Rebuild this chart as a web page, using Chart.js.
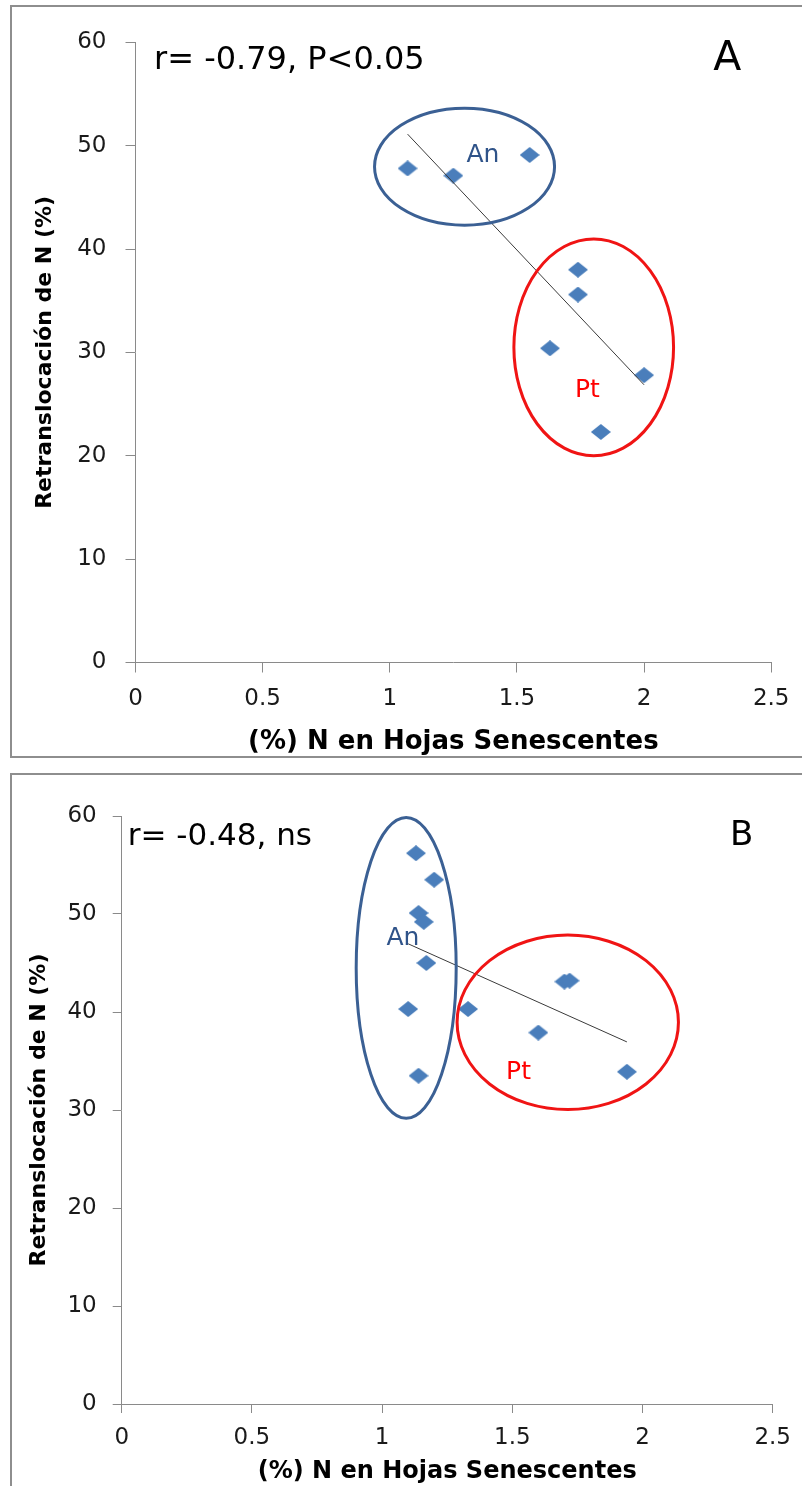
<!DOCTYPE html>
<html>
<head>
<meta charset="utf-8">
<script src="https://cdn.jsdelivr.net/npm/chart.js@4/dist/chart.umd.min.js"></script>
<style>
  body { margin: 0; width: 802px; height: 1486px; overflow: hidden; background: #fff; position: relative; }
  .box { position: absolute; left: 10px; width: 800px; border: 2px solid #8e8e8e; border-right: none; }
  #boxA { top: 5px; height: 749px; }
  #boxB { top: 773px; height: 760px; border-bottom: none; }
  canvas { position: absolute; left: 0; }
  #chartA { top: 0; }
  #chartB { top: 768px; }
</style>
</head>
<body>
<div class="box" id="boxA"></div>
<div class="box" id="boxB"></div>
<canvas id="chartA" width="802" height="760"></canvas>
<canvas id="chartB" width="802" height="718"></canvas>
<script>
// panel A: % N in senescent leaves vs N retranslocation
const nLeafA = [1.07, 1.25, 1.55, 1.74, 1.74, 1.63, 2.00, 1.83];
const retransA = [47.8, 47.1, 49.1, 38.0, 35.6, 30.4, 27.8, 22.3];

// panel B
const nLeafB = [1.13, 1.20, 1.14, 1.16, 1.17, 1.10, 1.14, 1.33, 1.70, 1.72, 1.60, 1.94];
const retransB = [56.2, 53.5, 50.1, 49.2, 45.0, 40.3, 33.5, 40.3, 43.1, 43.2, 37.9, 33.9];

const xTicks = [0, 0.5, 1, 1.5, 2, 2.5];
const yTicks = [0, 10, 20, 30, 40, 50, 60];

const groups = ['An', 'Pt'];
// circled groups, in data units: [cx, cy, rx, ry]
const ringsA = [[1.294, 47.97, 0.354, 5.66], [1.802, 30.49, 0.314, 10.49]];
const ringsB = [[1.0925, 44.5, 0.192, 15.35], [1.713, 38.95, 0.425, 8.9]];
// where the group names sit, data units
const namesA = [[1.366, 49.3], [1.777, 26.6]];
const namesB = [[1.080, 47.76], [1.524, 34.1]];

const groupColors = ['#2f5389', '#ff0000'];
const ringColors = ['#3b6094', '#f01414'];

Chart.defaults.font.family = '"DejaVu Sans", sans-serif';

// least squares line over the data range (Excel linear trendline)
const trend = (xs, ys) => {
  const n = xs.length;
  const mx = xs.reduce((a, b) => a + b, 0) / n;
  const my = ys.reduce((a, b) => a + b, 0) / n;
  let sxy = 0, sxx = 0;
  xs.forEach((x, i) => { sxy += (x - mx) * (ys[i] - my); sxx += (x - mx) * (x - mx); });
  const b = sxy / sxx;
  const lo = Math.min(...xs), hi = Math.max(...xs);
  return [{x: lo, y: my + b * (lo - mx)}, {x: hi, y: my + b * (hi - mx)}];
};

const diamond = (() => {
  const c = document.createElement('canvas');
  c.width = 20; c.height = 16;
  const g = c.getContext('2d');
  g.fillStyle = '#4a7ebb';
  g.beginPath();
  g.moveTo(10, 0); g.lineTo(20, 8); g.lineTo(10, 16); g.lineTo(0, 8);
  g.closePath();
  g.fill();
  return c;
})();

const extras = {
  id: 'extras',
  afterDatasetsDraw(chart, args, o) {
    const {ctx, chartArea: a, scales: {x, y}} = chart;
    ctx.save();
    o.rings.forEach((r, i) => {
      const cx = x.getPixelForValue(r[0]), cy = y.getPixelForValue(r[1]);
      const rx = x.getPixelForValue(r[0] + r[2]) - cx;
      const ry = cy - y.getPixelForValue(r[1] + r[3]);
      ctx.beginPath();
      ctx.ellipse(cx, cy, rx, ry, 0, 0, Math.PI * 2);
      ctx.lineWidth = 3;
      ctx.strokeStyle = ringColors[i];
      ctx.stroke();
    });
    ctx.font = '25px "DejaVu Sans"';
    ctx.textAlign = 'center';
    ctx.textBaseline = 'alphabetic';
    o.names.forEach((p, i) => {
      ctx.fillStyle = groupColors[i];
      ctx.fillText(groups[i], x.getPixelForValue(p[0]), y.getPixelForValue(p[1]) + 9);
    });
    ctx.fillStyle = '#000';
    ctx.textAlign = 'left';
    ctx.font = o.statSize + 'px "DejaVu Sans"';
    ctx.fillText(o.stat, a.left + o.statDx, a.top + o.statDy);
    ctx.textAlign = 'center';
    ctx.font = o.letterSize + 'px "DejaVu Sans"';
    ctx.fillText(o.letter, a.right - o.letterDx, a.top + o.letterDy);
    ctx.restore();
  }
};

const makeChart = (id, xs, ys, p) => {
  const pts = xs.map((x, i) => ({x, y: ys[i]}));
  new Chart(document.getElementById(id), {
    type: 'scatter',
    data: {
      datasets: [
        {data: trend(xs, ys), showLine: true, borderColor: '#3a3a3a', borderWidth: 1, pointRadius: 0, order: 0},
        {data: pts, pointStyle: diamond, pointRadius: 8, order: 1}
      ]
    },
    options: {
      responsive: false,
      devicePixelRatio: 1,
      animation: false,
      layout: {padding: {top: p.top, right: p.right, left: 0, bottom: 0}},
      plugins: {
        legend: {display: false},
        tooltip: {enabled: false},
        extras: p.extras
      },
      scales: {
        x: {
          type: 'linear',
          min: xTicks[0], max: xTicks[xTicks.length - 1],
          afterBuildTicks: s => { s.ticks = xTicks.map(v => ({value: v})); },
          afterFit: s => { s.height = p.xHeight; },
          grid: {drawOnChartArea: false, tickLength: p.tickLen, tickColor: '#8a8a8a'},
          border: {color: '#8a8a8a'},
          ticks: {color: '#1a1a1a', font: {size: 23}, padding: p.xPad, maxRotation: 0, callback: v => String(v)},
          title: {display: true, text: '(%) N en Hojas Senescentes', color: '#000',
                  font: {size: p.xTitleSize, weight: 'bold'}, padding: {top: 0, bottom: p.xTitlePad}}
        },
        y: {
          type: 'linear',
          min: yTicks[0], max: yTicks[yTicks.length - 1],
          afterBuildTicks: s => { s.ticks = yTicks.map(v => ({value: v})); },
          afterFit: s => { s.width = p.yWidth; },
          grid: {drawOnChartArea: false, tickLength: p.tickLen, tickColor: '#8a8a8a'},
          border: {color: '#8a8a8a'},
          ticks: {color: '#1a1a1a', font: {size: 23}, padding: p.yPad, callback: v => String(v)},
          title: {display: true, text: 'Retranslocación de N (%)', color: '#000',
                  font: {size: 22, weight: 'bold'}, padding: {top: p.yTitlePad, bottom: 0}}
        }
      }
    },
    plugins: [extras]
  });
};

(() => {
  makeChart('chartA', nLeafA, retransA, {
    top: 42.3, right: 30, xHeight: 97.5, yWidth: 135.5, tickLen: 10,
    xPad: 12.5, yPad: 19, xTitleSize: 26, xTitlePad: 2.4, yTitlePad: 31.8,
    extras: {rings: ringsA, names: namesA, stat: 'r= -0.79, P<0.05', statSize: 32, statDx: 18.5, statDy: 27,
             letter: 'A', letterSize: 41, letterDx: 44, letterDy: 27.7}
  });
  makeChart('chartB', nLeafB, retransB, {
    top: 48, right: 27, xHeight: 82, yWidth: 121.7, tickLen: 9,
    xPad: 11, yPad: 16, xTitleSize: 24, xTitlePad: 0, yTitlePad: 26.4,
    extras: {rings: ringsB, names: namesB, stat: 'r= -0.48, ns', statSize: 31, statDx: 6, statDy: 28.5,
             letter: 'B', letterSize: 34, letterDx: 31, letterDy: 29}
  });
})();
</script>
</body>
</html>
